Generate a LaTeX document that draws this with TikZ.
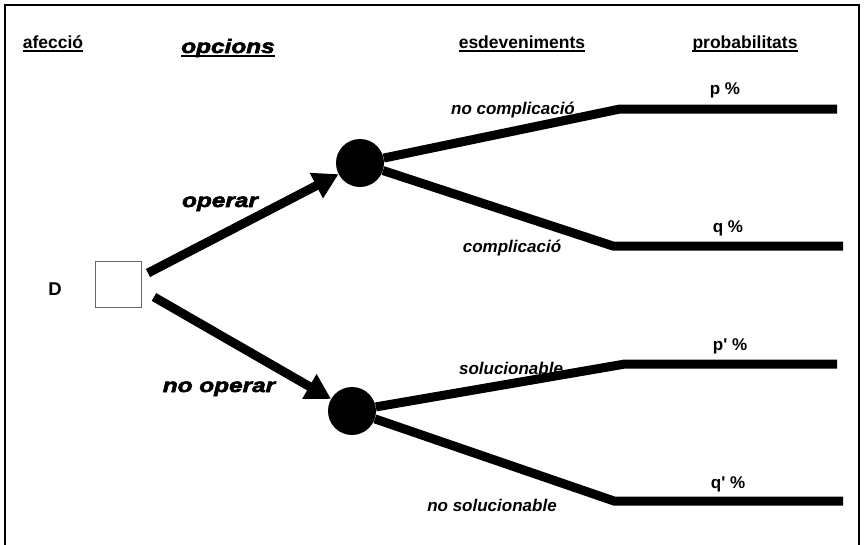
\documentclass[tikz,border=0pt]{standalone}
\usepackage{fontspec}
\setmainfont{Liberation Sans}[Ligatures=TeXOff]
\newfontfamily\heavyfont[FakeBold=3,FakeStretch=1.25]{Liberation Sans}
\usetikzlibrary{arrows.meta}

\begin{document}
\begin{tikzpicture}[x=1pt,y=-1pt,
  hdr/.style={font=\fontsize{17.5}{20}\selectfont\bfseries, inner sep=0pt},
  lab/.style={font=\fontsize{17}{20}\selectfont\bfseries\itshape, inner sep=0pt},
  opt/.style={font=\heavyfont\fontsize{19.5}{22}\selectfont\bfseries\itshape, inner sep=0pt},
  prob/.style={font=\fontsize{17}{20}\selectfont\bfseries, inner sep=0pt},
  branch/.style={line width=9pt},
  choice/.style={line width=9pt, -{Triangle[length=25pt,width=27pt]}},
  chance/.style={circle, fill=black, minimum size=48pt, inner sep=0pt},
  decision/.style={rectangle, draw=black!60, line width=1pt, fill=white, minimum size=46pt, inner sep=0pt},
  uline/.style={line width=1.6pt}
]
\useasboundingbox (0,0) rectangle (864,544);
% frame
\draw[line width=2pt] (5,560) -- (5,5) -- (859,5) -- (859,560);

% column headers
\node[hdr, anchor=base] (hafec) at (53,48) {afecció};
\node[opt, anchor=base] (hopc) at (228,53) {opcions};
\node[hdr, anchor=base] (hesd) at (522,48) {esdeveniments};
\node[hdr, anchor=base] (hprob) at (745,48) {probabilitats};
\foreach \h in {hafec,hopc,hesd,hprob}
  \draw[uline] ([yshift=-3pt]\h.base west) -- ([yshift=-3pt]\h.base east);

% decision and chance nodes
\node[decision] (d) at (118,284) {};
\node[hdr, anchor=base, font=\fontsize{18.5}{20}\selectfont\bfseries] (dl) at (55,295) {D};
\node[chance] (c1) at (360,163) {};
\node[chance] (c2) at (352,411) {};

% choices
\coordinate (s1) at (148,273);
\coordinate (s2) at (154,297);
\draw[choice] (s1) -- (c1);
\draw[choice] (s2) -- (c2);
\node[opt, anchor=base] (lop) at (220,207) {operar};
\node[opt, anchor=base] (lnop) at (219,392) {no operar};

% outcome branches
\coordinate (k1) at (620,109); \coordinate (e1) at (837,109);
\coordinate (k2) at (613,246); \coordinate (e2) at (843,246);
\coordinate (k3) at (625,364); \coordinate (e3) at (837,364);
\coordinate (k4) at (614,501); \coordinate (e4) at (843,501);
\draw[branch] (c1) -- (k1) -- (e1);
\draw[branch] (c1) -- (k2) -- (e2);
\draw[branch] (c2) -- (k3) -- (e3);
\draw[branch] (c2) -- (k4) -- (e4);

% outcome labels
\node[lab, anchor=base] (o1) at (513,114) {no complicació};
\node[lab, anchor=base] (o2) at (512,252) {complicació};
\node[lab, anchor=base] (o3) at (511,374) {solucionable};
\node[lab, anchor=base] (o4) at (492,511) {no solucionable};

% probabilities
\node[prob, anchor=base] (p1) at (725,94) {p \%};
\node[prob, anchor=base] (p2) at (728,232) {q \%};
\node[prob, anchor=base] (p3) at (730,350) {p' \%};
\node[prob, anchor=base] (p4) at (728,488) {q' \%};
\end{tikzpicture}
\end{document}
